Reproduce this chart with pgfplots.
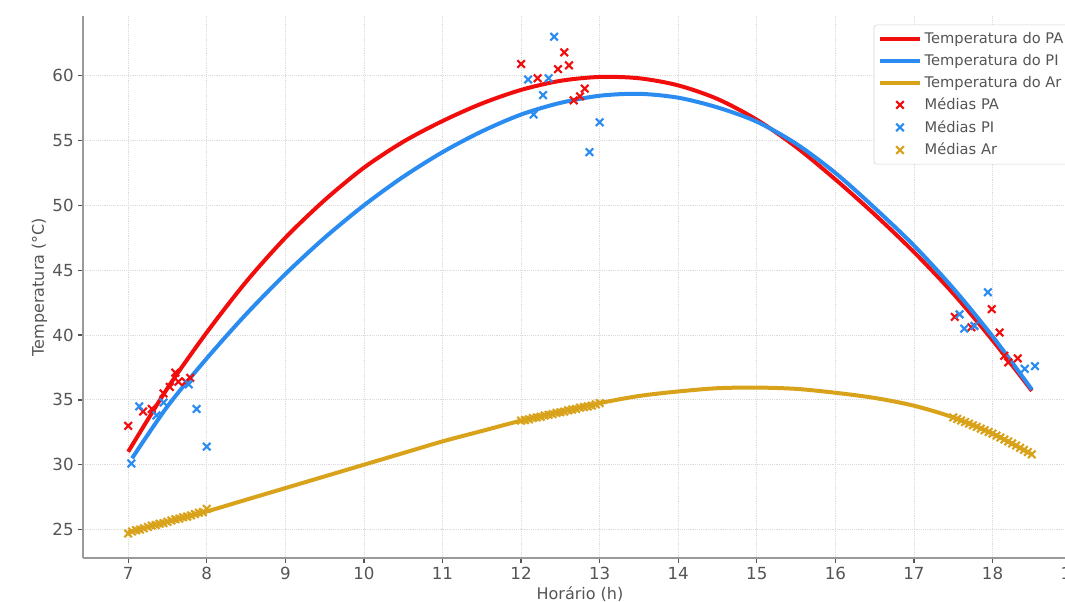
\documentclass[border=0pt]{standalone}
\usepackage{fontspec}
\setmainfont{DejaVu Sans}
\usepackage{pgfplots}
\pgfplotsset{compat=1.18}

\definecolor{paRed}{HTML}{F20D0D}
\definecolor{piBlue}{HTML}{2A8CF0}
\definecolor{arGold}{HTML}{D9A21B}
\definecolor{spine}{HTML}{9A9A9A}
\definecolor{txt}{HTML}{555555}

% medias (pontos)
\pgfplotstableread{
x y
7.00 33.0
7.19 34.1
7.30 34.3
7.45 35.5
7.53 36.0
7.60 37.1
7.64 36.4
7.73 36.4
7.79 36.7
12.00 60.9
12.21 59.8
12.47 60.5
12.55 61.8
12.61 60.8
12.67 58.1
12.75 58.4
12.81 59.0
17.52 41.4
17.73 40.6
17.99 42.0
18.09 40.2
18.15 38.4
18.20 37.9
18.32 38.2
}\mediasPA
\pgfplotstableread{
x y
7.04 30.1
7.14 34.5
7.36 33.8
7.45 34.8
7.77 36.2
7.87 34.3
8.00 31.4
12.09 59.7
12.16 57.0
12.28 58.5
12.35 59.8
12.42 63.0
12.87 54.1
13.00 56.4
17.58 41.6
17.64 40.5
17.77 40.7
17.94 43.3
18.41 37.4
18.54 37.6
}\mediasPI
\pgfplotstableread{
x y
7.00 24.70
7.05 24.85
7.10 24.95
7.15 25.00
7.20 25.10
7.25 25.20
7.30 25.30
7.35 25.35
7.40 25.45
7.45 25.50
7.50 25.60
7.55 25.70
7.60 25.80
7.65 25.85
7.70 25.95
7.75 26.00
7.80 26.10
7.85 26.20
7.90 26.30
7.95 26.35
8.00 26.60
12.00 33.40
12.05 33.45
12.10 33.50
12.15 33.60
12.20 33.65
12.25 33.70
12.30 33.80
12.35 33.85
12.40 33.90
12.45 34.00
12.50 34.05
12.55 34.10
12.60 34.20
12.65 34.25
12.70 34.30
12.75 34.40
12.80 34.45
12.85 34.50
12.90 34.55
12.95 34.65
13.00 34.75
17.50 33.65
17.55 33.53
17.60 33.41
17.65 33.29
17.70 33.17
17.75 33.04
17.80 32.92
17.85 32.79
17.90 32.66
17.95 32.53
18.00 32.40
18.05 32.25
18.10 32.10
18.15 31.95
18.20 31.80
18.25 31.64
18.30 31.48
18.35 31.31
18.40 31.15
18.45 30.98
18.50 30.80
}\mediasAr

\begin{document}
\begin{tikzpicture}
\begin{axis}[
    scale only axis,
    width=745.5pt, height=406.5pt,
    xmin=6.425, xmax=19.075,
    ymin=22.81, ymax=64.6,
    xtick={7,8,...,19},
    ytick={25,30,...,60},
    axis x line*=bottom,
    axis y line*=left,
    axis line style={spine, line width=2pt},
    tick style={txt, line width=1pt},
    tick align=outside,
    major tick length=3.5pt,
    grid=major,
    major grid style={densely dotted, gray!28, line width=0.6pt},
    ticklabel style={font=\fontsize{12.5}{14}\selectfont, text=txt},
    /pgf/number format/assume math mode=true,
    xlabel={Horário (h)},
    ylabel={Temperatura (°C)},
    label style={font=\fontsize{12}{14}\selectfont, text=txt},
    xlabel style={yshift=1.5pt},
    ylabel style={yshift=-3pt},
    legend style={at={(1,1)}, anchor=north east, xshift=-5pt, yshift=-6.5pt,
        draw=gray!35, fill=white, rounded corners=2pt,
        font=\fontsize{11}{13}\selectfont, text=txt,
        row sep=2.6pt, inner xsep=3pt, inner ysep=3.5pt},
    legend cell align=left,
]
\addplot[paRed, line width=3pt, smooth, legend image code/.code={\draw[paRed, line width=3pt] (0pt,0pt) -- (30pt,0pt);}] coordinates {
    (7.0,31.0) (7.5,35.9) (8.0,40.2) (8.5,44.1) (9.0,47.5) (9.5,50.4)
    (10.0,52.9) (10.5,54.9) (11.0,56.5) (11.5,57.85) (12.0,58.9) (12.5,59.6)
    (13.0,59.9) (13.5,59.8) (14.0,59.25) (14.5,58.2) (15.0,56.6) (15.5,54.5)
    (16.0,52.0) (16.5,49.3) (17.0,46.4) (17.5,43.2) (18.0,39.6) (18.5,35.7)
};
\addlegendentry{Temperatura do PA}
\addplot[piBlue, line width=3pt, smooth, legend image code/.code={\draw[piBlue, line width=3pt] (0pt,0pt) -- (30pt,0pt);}] coordinates {
    (7.05,30.5) (7.5,34.5) (8.0,38.2) (8.5,41.6) (9.0,44.7) (9.5,47.5)
    (10.0,50.0) (10.5,52.2) (11.0,54.1) (11.5,55.7) (12.0,57.0) (12.5,57.9)
    (13.0,58.45) (13.5,58.6) (14.0,58.3) (14.5,57.55) (15.0,56.45) (15.5,54.75)
    (16.0,52.5) (16.5,49.8) (17.0,46.9) (17.5,43.6) (18.0,39.9) (18.5,35.8)
};
\addlegendentry{Temperatura do PI}
\addplot[arGold, line width=3pt, smooth, legend image code/.code={\draw[arGold, line width=3pt] (0pt,0pt) -- (30pt,0pt);}] coordinates {
    (7.0,24.8) (7.5,25.6) (8.0,26.4) (8.5,27.3) (9.0,28.2) (9.5,29.1)
    (10.0,30.0) (10.5,30.9) (11.0,31.8) (11.5,32.6) (12.0,33.4) (12.5,34.1)
    (13.0,34.75) (13.5,35.3) (14.0,35.65) (14.5,35.9) (15.0,35.95) (15.5,35.85)
    (16.0,35.55) (16.5,35.15) (17.0,34.55) (17.5,33.65) (18.0,32.4) (18.5,30.8)
};
\addlegendentry{Temperatura do Ar}
\addplot[only marks, mark=x, mark size=4pt, mark options={paRed, line width=1.6pt},
    legend image code/.code={\draw[mark=x, mark size=4pt, paRed, line width=1.6pt] plot coordinates {(15pt,0pt)};}]
    table {\mediasPA};
\addlegendentry{Médias PA}
\addplot[only marks, mark=x, mark size=4pt, mark options={piBlue, line width=1.6pt},
    legend image code/.code={\draw[mark=x, mark size=4pt, piBlue, line width=1.6pt] plot coordinates {(15pt,0pt)};}]
    table {\mediasPI};
\addlegendentry{Médias PI}
\addplot[only marks, mark=x, mark size=4pt, mark options={arGold, line width=1.6pt},
    legend image code/.code={\draw[mark=x, mark size=4pt, arGold, line width=1.6pt] plot coordinates {(15pt,0pt)};}]
    table {\mediasAr};
\addlegendentry{Médias Ar}
\end{axis}
\pgfresetboundingbox
\useasboundingbox (-62.25pt,-33pt) rectangle (736.5pt,418.5pt);
\end{tikzpicture}
\end{document}
